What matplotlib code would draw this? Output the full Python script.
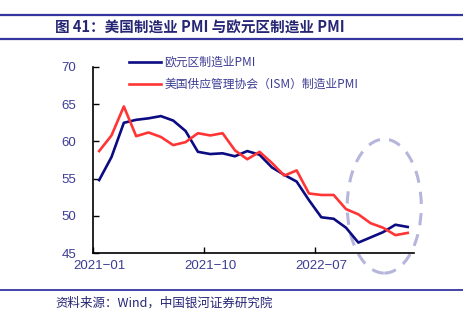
import numpy as np
import matplotlib
matplotlib.use("Agg")
import matplotlib.pyplot as plt
from matplotlib.patches import Ellipse

plt.rcParams['font.family'] = ['Liberation Sans', 'Noto Sans CJK SC', 'DejaVu Sans']

# 2021-01 .. 2023-02 月度数据
months = ["2021-01", "2021-02", "2021-03", "2021-04", "2021-05", "2021-06",
          "2021-07", "2021-08", "2021-09", "2021-10", "2021-11", "2021-12",
          "2022-01", "2022-02", "2022-03", "2022-04", "2022-05", "2022-06",
          "2022-07", "2022-08", "2022-09", "2022-10", "2022-11", "2022-12",
          "2023-01", "2023-02"]
euro_pmi = [54.8, 57.9, 62.5, 62.9, 63.1, 63.4, 62.8, 61.4, 58.6, 58.3, 58.4, 58.0,
            58.7, 58.2, 56.5, 55.5, 54.6, 52.1, 49.8, 49.6, 48.4, 46.4, 47.1, 47.8,
            48.8, 48.5]
ism_pmi = [58.7, 60.8, 64.7, 60.7, 61.2, 60.6, 59.5, 59.9, 61.1, 60.8, 61.1, 58.8,
           57.6, 58.6, 57.1, 55.4, 56.1, 53.0, 52.8, 52.8, 50.9, 50.2, 49.0, 48.4,
           47.4, 47.7]
label_every = 9
y_ticks = [45, 50, 55, 60, 65, 70]

navy = '#0b0b82'
red = '#ff3535'
text_c = '#3c3c94'
rule_c = '#3535a0'

fig = plt.figure(figsize=(4.64, 3.23), dpi=100)
ax = fig.add_axes([0.2004, 0.2167, 0.6916, 0.5759])

x = np.arange(len(months))
ax.plot(x, euro_pmi, color=navy, lw=1.9, label='欧元区制造业PMI')
ax.plot(x, ism_pmi, color=red, lw=1.9, label='美国供应管理协会（ISM）制造业PMI')

ax.set_xlim(-0.5, len(months) - 0.5)
ax.set_ylim(45, 70)

# 刻度在类别边界，标签在类别中间
ax.set_xticks(np.arange(-0.5, len(months) - 1, label_every))
ax.set_xticklabels([])
ax.set_xticks(x[::label_every], minor=True)
ax.set_xticklabels([m.replace('-', '\u2212') for m in months[::label_every]], minor=True)
ax.tick_params(axis='x', which='major', direction='in', length=4, width=1)
ax.tick_params(axis='x', which='minor', length=0, pad=5, labelsize=9.5, labelcolor=text_c)
ax.set_yticks(y_ticks)
ax.tick_params(axis='y', direction='in', length=4, width=1, pad=12,
               labelsize=9.5, labelcolor=text_c)

for s in ['top', 'right']:
    ax.spines[s].set_visible(False)
for s in ['left', 'bottom']:
    ax.spines[s].set_linewidth(1.2)

# 虚线椭圆标出近期走势
ell = Ellipse((23.1, 51.3), 6.0, 18.0, fill=False, edgecolor='#b6b6dc',
              lw=2.2, ls=(0, (4, 3)), clip_on=False)
ax.add_patch(ell)

leg = ax.legend(loc='upper left', bbox_to_anchor=(0.255, 0.86), bbox_transform=fig.transFigure,
                frameon=False, handlelength=2.7, handletextpad=0.3, labelspacing=0.75,
                prop={'family': ['Noto Sans CJK SC'], 'size': 8.5})
for t in leg.get_texts():
    t.set_color(text_c)

# 标题栏
fig.add_artist(plt.Line2D([0, 1], [1 - 15 / 323] * 2, color=rule_c, lw=1.6))
fig.add_artist(plt.Line2D([0, 1], [1 - 39 / 323] * 2, color=rule_c, lw=1.6))
fig.text(55 / 464, 1 - 27.5 / 323, '图 41：美国制造业 PMI 与欧元区制造业 PMI',
         family=['Noto Sans CJK SC'], fontweight='bold', fontsize=10.5,
         color='#262675', va='center', ha='left')

fig.add_artist(plt.Line2D([0, 1], [1 - 290 / 323] * 2, color=rule_c, lw=1.3))
fig.text(55 / 464, 1 - 303 / 323, '资料来源：Wind，中国银河证券研究院',
         family=['Noto Sans CJK SC'], style='italic', fontsize=9,
         color='#262675', va='center', ha='left')

fig.savefig('out.png', dpi=100)
